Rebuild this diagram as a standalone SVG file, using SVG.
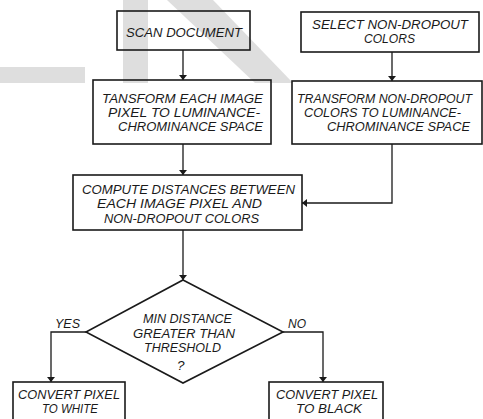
<svg xmlns="http://www.w3.org/2000/svg" width="483" height="419" viewBox="0 0 483 419">
<style>
.wm{fill:#dedede;stroke:none}
.box{fill:none;stroke:#1a1a1a;stroke-width:1.6}
.ln{fill:none;stroke:#1a1a1a;stroke-width:1.3}
text{font-family:"Liberation Sans",Arial,sans-serif;font-style:italic;font-size:13.5px;fill:#1a1a1a}
</style>
<defs>
<marker id="ah" viewBox="0 0 10 10" refX="10" refY="5" markerWidth="5" markerHeight="8" markerUnits="userSpaceOnUse" orient="auto" preserveAspectRatio="none">
<path d="M0,0 L10,5 L0,10 Z" fill="#1a1a1a"/>
</marker>
</defs>
<g id="watermark">
<rect class="wm" x="0" y="67" width="85" height="16"/>
<rect class="wm" x="123" y="0" width="25" height="83"/>
<polygon class="wm" points="167,0 213,0 293,83 255,83"/>
</g>
<g id="connectors">
<line class="ln" x1="183" y1="50" x2="183" y2="80" marker-end="url(#ah)"/>
<line class="ln" x1="392" y1="52" x2="392" y2="81" marker-end="url(#ah)"/>
<line class="ln" x1="183" y1="144" x2="183" y2="175" marker-end="url(#ah)"/>
<polyline class="ln" points="392,144 392,203 302,203" marker-end="url(#ah)"/>
<line class="ln" x1="183" y1="230" x2="183" y2="280" marker-end="url(#ah)"/>
<polyline class="ln" points="86,332 51,332 51,382" marker-end="url(#ah)"/>
<polyline class="ln" points="283,332 323,332 323,382" marker-end="url(#ah)"/>
<text x="55" y="328" textLength="25" lengthAdjust="spacingAndGlyphs">YES</text>
<text x="288" y="328" textLength="18" lengthAdjust="spacingAndGlyphs">NO</text>
</g>
<g id="scan">
<rect class="box" x="117" y="11" width="133" height="39"/>
<text x="126" y="37" textLength="116" lengthAdjust="spacingAndGlyphs">SCAN DOCUMENT</text>
</g>
<g id="select">
<rect class="box" x="301" y="12" width="178" height="40"/>
<text x="312" y="29" textLength="156" lengthAdjust="spacingAndGlyphs">SELECT NON-DROPOUT</text>
<text x="364" y="43" textLength="51" lengthAdjust="spacingAndGlyphs">COLORS</text>
</g>
<g id="transform-pixel">
<rect class="box" x="93" y="80" width="178" height="64"/>
<text x="102" y="103" textLength="161" lengthAdjust="spacingAndGlyphs">TANSFORM EACH IMAGE</text>
<text x="108" y="117" textLength="152" lengthAdjust="spacingAndGlyphs">PIXEL TO LUMINANCE-</text>
<text x="118" y="131" textLength="145" lengthAdjust="spacingAndGlyphs">CHROMINANCE SPACE</text>
</g>
<g id="transform-colors">
<rect class="box" x="292" y="81" width="190" height="63"/>
<text x="297" y="103" style="font-size:12.3px" textLength="175" lengthAdjust="spacingAndGlyphs">TRANSFORM NON-DROPOUT</text>
<text x="304" y="117" textLength="157" lengthAdjust="spacingAndGlyphs">COLORS TO LUMINANCE-</text>
<text x="327" y="131" textLength="143" lengthAdjust="spacingAndGlyphs">CHROMINANCE SPACE</text>
</g>
<g id="compute">
<rect class="box" x="73" y="175" width="229" height="55"/>
<text x="82" y="194" textLength="213" lengthAdjust="spacingAndGlyphs">COMPUTE DISTANCES BETWEEN</text>
<text x="97" y="208" textLength="165" lengthAdjust="spacingAndGlyphs">EACH IMAGE PIXEL AND</text>
<text x="104" y="223" textLength="155" lengthAdjust="spacingAndGlyphs">NON-DROPOUT COLORS</text>
</g>
<g id="decision">
<polygon class="box" points="183,280 283,332 183,383 86,332"/>
<text x="143" y="323" textLength="89" lengthAdjust="spacingAndGlyphs">MIN DISTANCE</text>
<text x="133" y="338" textLength="102" lengthAdjust="spacingAndGlyphs">GREATER THAN</text>
<text x="144" y="352" textLength="77" lengthAdjust="spacingAndGlyphs">THRESHOLD</text>
<text x="177" y="370">?</text>
</g>
<g id="white">
<rect class="box" x="13" y="382" width="112" height="45"/>
<text x="18" y="399" textLength="102" lengthAdjust="spacingAndGlyphs">CONVERT PIXEL</text>
<text x="42" y="413" textLength="56" lengthAdjust="spacingAndGlyphs">TO WHITE</text>
</g>
<g id="black">
<rect class="box" x="269" y="382" width="114" height="45"/>
<text x="276" y="399" textLength="102" lengthAdjust="spacingAndGlyphs">CONVERT PIXEL</text>
<text x="296" y="413" textLength="66" lengthAdjust="spacingAndGlyphs">TO BLACK</text>
</g>
</svg>
